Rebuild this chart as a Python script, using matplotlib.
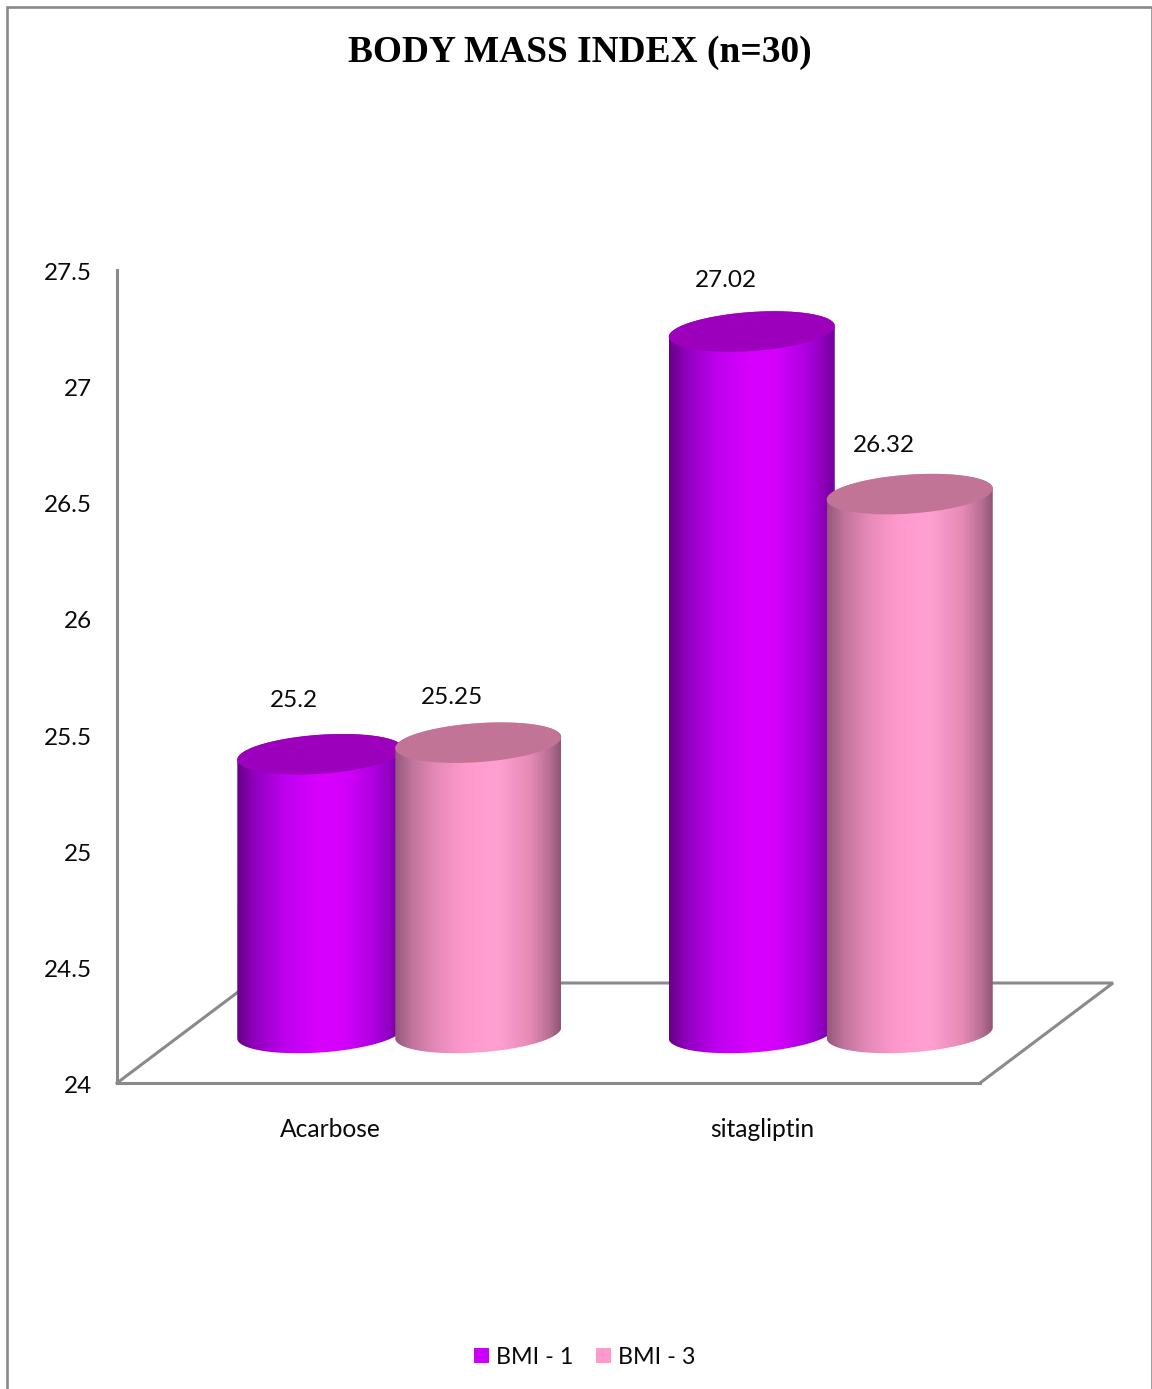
import matplotlib
matplotlib.use("Agg")
import matplotlib.pyplot as plt
import numpy as np
from matplotlib.colors import LinearSegmentedColormap
from matplotlib.patches import Patch, PathPatch, Rectangle
from matplotlib.path import Path
from matplotlib.transforms import ScaledTranslation

plt.rcParams['font.family'] = ['Lato', 'DejaVu Sans']

categories = ["Acarbose", "sitagliptin"]
series_names = ["BMI - 1", "BMI - 3"]
bmi_1 = [25.2, 27.02]
bmi_3 = [25.25, 26.32]
value_labels = [["25.2", "27.02"], ["25.25", "26.32"]]
y_ticks = [24, 24.5, 25, 25.5, 26, 26.5, 27, 27.5]
y_tick_labels = ["24", "24.5", "25", "25.5", "26", "26.5", "27", "27.5"]

# figure size in pixels, everything below is laid out on this grid
W, H = 1152, 1389
GRAY = "#8a8a8a"
TEXT = "#0a0a0a"

# small vertical shifts of the value labels (pixels)
label_nudge = [[2, -1], [-7, -3]]

fig = plt.figure(figsize=(W / 100, H / 100), dpi=100)

# outer border, runs off the bottom of the page
fig.add_artist(Rectangle((7 / W, -0.01), (1151.5 - 7) / W, 1.01 - 7 / H,
                         transform=fig.transFigure, fill=False, ec=GRAY, lw=1.9))

ax = fig.add_axes([117 / W, 1 - 1083 / H, (980 - 117) / W, (1083 - 270) / H])
ax.set_xlim(-0.5, 1.5)
ax.set_ylim(24, 27.5)

px_x = 2 / (980 - 117)
px_y = 3.5 / (1083 - 270)

# depth of the floor
depth_x = 133 * px_x
depth_y = 100 * px_y

for s in ["top", "right"]:
    ax.spines[s].set_visible(False)
for s in ["left", "bottom"]:
    ax.spines[s].set_color(GRAY)
    ax.spines[s].set_linewidth(2.2)

# floor outline
ax.plot([-0.5, -0.5 + depth_x, 1.5 + depth_x, 1.5], [24, 24 + depth_y, 24 + depth_y, 24],
        color=GRAY, lw=2.2, clip_on=False, zorder=1, solid_joinstyle="miter")

ax.set_yticks(y_ticks)
ax.set_yticklabels(y_tick_labels, fontsize=17.5, color=TEXT)
ax.set_xticks([0, 1])
ax.set_xticklabels(categories, fontsize=17.7, color=TEXT)
ax.tick_params(axis="y", length=0, pad=18)
ax.tick_params(axis="x", length=0, pad=25.3)

# shift tick labels by a pixel or two
for lab in ax.get_yticklabels():
    lab.set_transform(lab.get_transform() + ScaledTranslation(0, -1.5 / 100, fig.dpi_scale_trans))
for lab in ax.get_xticklabels():
    lab.set_transform(lab.get_transform() + ScaledTranslation(-2 / 100, 0, fig.dpi_scale_trans))

purple_cmap = LinearSegmentedColormap.from_list("purple", [
    (0, "#680088"), (0.12, "#9400c4"), (0.3, "#c000f0"), (0.5, "#d800ff"),
    (0.65, "#d400fc"), (0.85, "#a800dc"), (1, "#74009c")])
pink_cmap = LinearSegmentedColormap.from_list("pink", [
    (0, "#94587a"), (0.1, "#c0749c"), (0.25, "#e68ab8"), (0.42, "#ff99cc"),
    (0.62, "#ffa0d2"), (0.82, "#e68ab5"), (0.93, "#b86f95"), (1, "#8f5573")])


def ellipse(cx, cy, t):
    # skewed ellipse of a cylinder end, the right side sits a bit higher
    return (cx + 83 * px_x * np.cos(t),
            cy + 5.5 * px_y * np.cos(t) - 19.5 * px_y * np.sin(t))


def cylinder(x, value, cmap, cap_color, z):
    base = 24 + depth_y / 2
    top = value + depth_y / 2
    lower = np.linspace(0, np.pi, 80)
    bx, by = ellipse(x, base, lower)
    tx, ty = ellipse(x, top, np.pi + lower)
    body = Path(np.column_stack([np.r_[bx, tx], np.r_[by, ty]]))
    patch = PathPatch(body, transform=ax.transData, fc="none", ec="none")
    ax.add_patch(patch)
    patch.set_clip_on(False)
    grad = ax.imshow(np.linspace(0, 1, 256).reshape(1, -1), cmap=cmap, aspect="auto",
                     extent=[x - 83 * px_x, x + 83 * px_x, base - 0.2, top + 0.2],
                     zorder=z, interpolation="bilinear")
    # the back row stands past the right end of the front axis
    grad.set_clip_box(fig.bbox)
    grad.set_clip_path(patch)
    cx, cy = ellipse(x, top, np.linspace(0, 2 * np.pi, 160))
    ax.fill(cx, cy, color=cap_color, lw=0, zorder=z + 0.5, clip_on=False)


offset = 79 * px_x
series = [bmi_1, bmi_3]
cmaps = [purple_cmap, pink_cmap]
caps = ["#9c00bc", "#c27497"]
for i in range(len(categories)):
    for j in range(2):
        x = i + depth_x / 2 + (j - 0.5) * 2 * offset
        v = series[j][i]
        cylinder(x, v, cmaps[j], caps[j], 3 + j + i * 2)
        ax.annotate(value_labels[j][i], (x, v + depth_y / 2),
                    xytext=(-26, 52 + label_nudge[j][i]), textcoords="offset pixels",
                    ha="center", va="center", fontsize=17.5, color=TEXT,
                    annotation_clip=False, zorder=10)

ax.set_xlim(-0.5, 1.5)
ax.set_ylim(24, 27.5)

fig.text(579.5 / W, 1 - 52 / H, "BODY MASS INDEX (n=30)", family="Liberation Serif",
         fontweight="bold", fontsize=26.9, ha="center", va="center", color="black")

handles = [Patch(fc="#cc00ff", ec="none"), Patch(fc="#ff99cc", ec="none")]
fig.legend(handles, series_names, ncol=2, frameon=False, loc="center",
           bbox_to_anchor=(584.5 / W, 1 - 1357 / H), fontsize=16.8, labelcolor=TEXT,
           handlelength=0.65, handleheight=0.65, handletextpad=0.3, columnspacing=0.95,
           borderpad=0, borderaxespad=0)

plt.savefig("out.png", dpi=100)
